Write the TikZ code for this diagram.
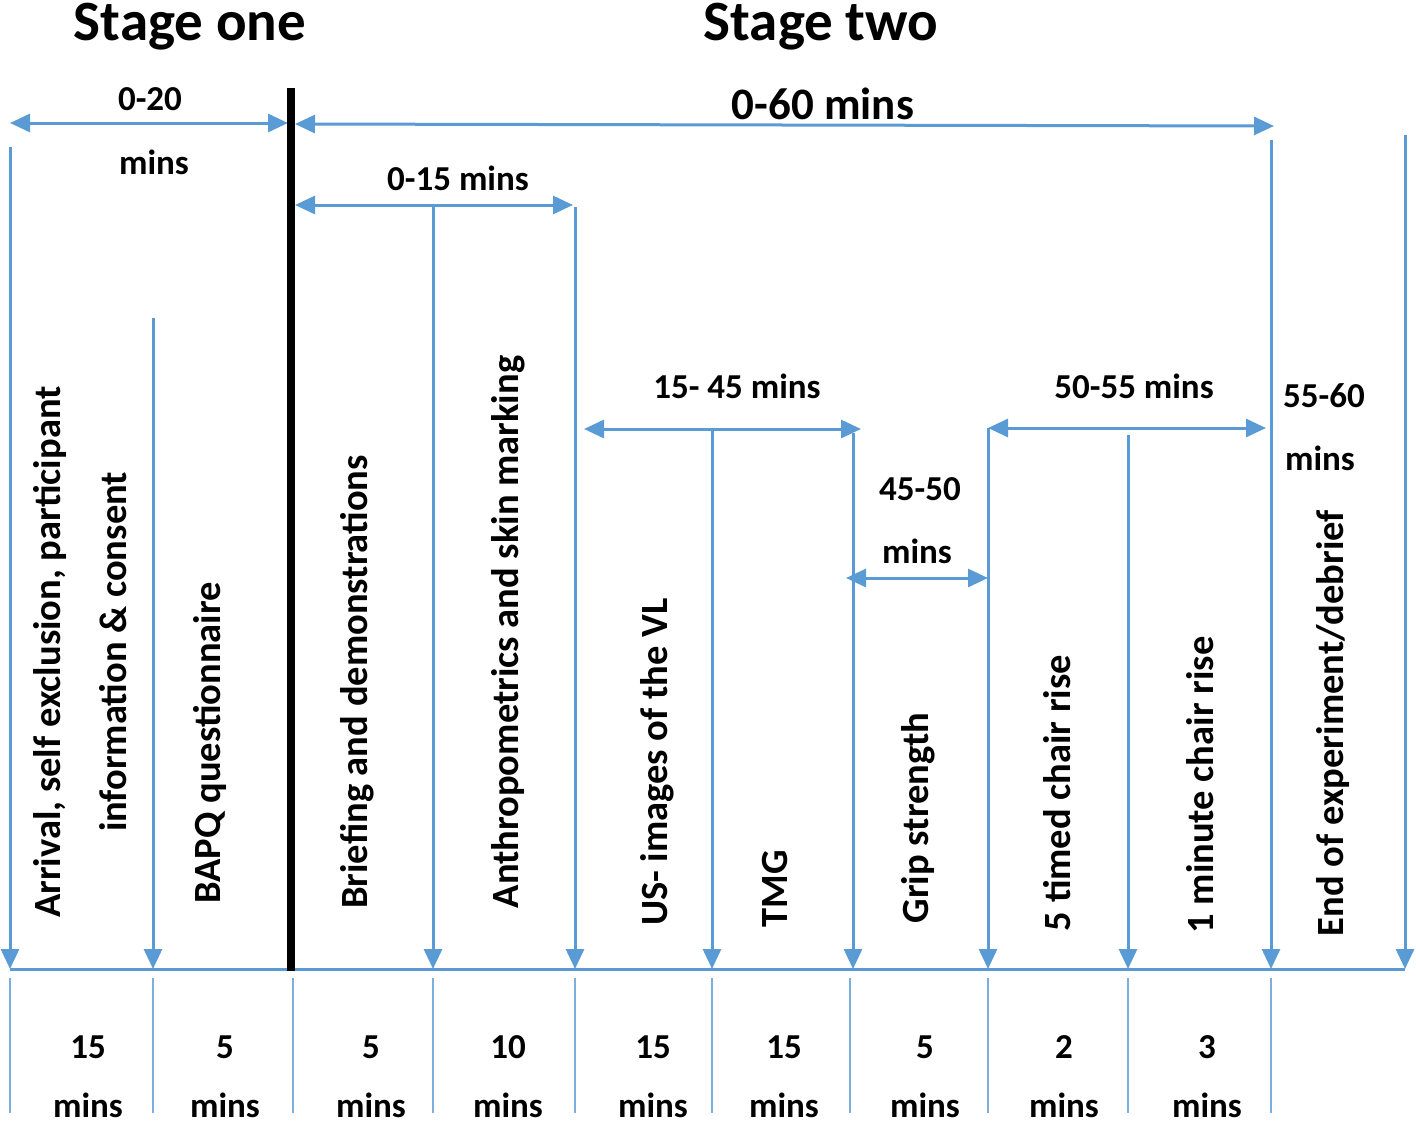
\documentclass[tikz,border=0pt]{standalone}
\usepackage{fontspec}
\setmainfont{Carlito}
\usetikzlibrary{arrows.meta}
\definecolor{lineblue}{HTML}{5B9BD5}
\begin{document}
\begin{tikzpicture}[x=1pt,y=-1pt,
  conn/.style={draw=lineblue,line width=3pt},
  arr/.style={conn,-{Triangle[length=20pt,width=18pt]}},
  darr/.style={conn,{Triangle[length=20pt,width=18pt]}-{Triangle[length=20pt,width=18pt]}},
  tick/.style={draw=lineblue,line width=2.5pt,draw opacity=0.8},
  lbl/.style={font=\fontsize{35}{40}\selectfont\bfseries,inner sep=0pt,anchor=base},
  bigl/.style={font=\fontsize{45}{50}\selectfont\bfseries,inner sep=0pt,anchor=base},
  ttl/.style={font=\fontsize{57}{60}\selectfont\bfseries,inner sep=0pt,anchor=base},
  vtext/.style={font=\fontsize{38.5}{66}\selectfont\bfseries,rotate=90,align=center,inner sep=0pt}]
\useasboundingbox (0,0) rectangle (1416,1125);

% titles
\node[ttl] (st1) at (190,40) {Stage one};
\node[ttl] (st2) at (821,40) {Stage two};

% thick separator
\coordinate (k1) at (291,88);
\coordinate (k2) at (291,971);

% vertical arrow tops and bottoms
\foreach \n/\x/\y in {1/10/147, 2/153/318, 4/433/205, 5/575/207, 6/712/429, 7/853/433, 8/988/428, 9/1128/435, 10/1271/140, 11/1405/135}{
  \coordinate (t\n) at (\x,\y);
  \coordinate (b\n) at (\x,969);
}
\coordinate (b3) at (291,969);

% bottom ticks
\foreach \n/\x in {1/10, 2/153, 3/293, 4/433, 5/575, 6/712, 7/850, 8/988, 9/1128, 10/1271}{
  \coordinate (u\n) at (\x,978);
  \coordinate (l\n) at (\x,1113);
  \draw[tick] (u\n) -- (l\n);
}

% baseline
\draw[conn] (b1) -- (b11);

% vertical arrows
\foreach \n in {1,2,4,5,6,7,8,9,10,11}{
  \draw[arr] (t\n) -- (b\n);
}

% horizontal double arrows
\coordinate (h1l) at (10,123);   \coordinate (h1r) at (288,123);
\coordinate (h2l) at (295,124);  \coordinate (h2r) at (1274,126);
\coordinate (h3l) at (295,205);  \coordinate (h3r) at (573,205);
\coordinate (h4l) at (584,429);  \coordinate (h4r) at (861,429);
\coordinate (h5l) at (846,578);  \coordinate (h5r) at (988,578);
\coordinate (h6l) at (988,428);  \coordinate (h6r) at (1266,428);
\foreach \n in {1,...,6}{ \draw[darr] (h\n l) -- (h\n r); }

\draw[black,line width=8pt] (k1) -- (k2);

% interval labels
\node[lbl] (L1a) at (150,110) {0-20};
\node[lbl] (L1b) at (154,174) {mins};
\node[bigl] (L2) at (823,119) {0-60 mins};
\node[lbl] (L3) at (458,190) {0-15 mins};
\node[lbl] (L4) at (737,398) {15- 45 mins};
\node[lbl] (L5a) at (920,500) {45-50};
\node[lbl] (L5b) at (917,563) {mins};
\node[lbl] (L6) at (1134,398) {50-55 mins};
\node[lbl] (L7a) at (1324,407) {55-60};
\node[lbl] (L7b) at (1320,470) {mins};

% activities (rotated)
\node[vtext] (A1) at (80,652) {Arrival, self exclusion, participant\\information \& consent};
\node[vtext] (A2) at (210,743) {BAPQ questionnaire};
\node[vtext] (A3) at (357,682) {Briefing and demonstrations};
\node[vtext] (A4) at (508,632) {Anthropometrics and skin marking};
\node[vtext] (A5) at (657,762) {US- images of the VL};
\node[vtext] (A6) at (775,889) {TMG};
\node[vtext] (A7) at (918,818) {Grip strength};
\node[vtext] (A8) at (1057,793) {5 timed chair rise};
\node[vtext] (A9) at (1200,785) {1 minute chair rise};
\node[vtext] (A10) at (1333,723) {End of experiment/debrief};

% durations
\foreach \n/\x/\v in {1/88/15, 2/225/5, 3/371/5, 4/508/10, 5/653/15, 6/784/15, 7/925/5, 8/1064/2, 9/1207/3}{
  \node[lbl] (D\n) at (\x,1058) {\v};
  \node[lbl] (M\n) at (\x,1117) {mins};
}
\end{tikzpicture}
\end{document}
